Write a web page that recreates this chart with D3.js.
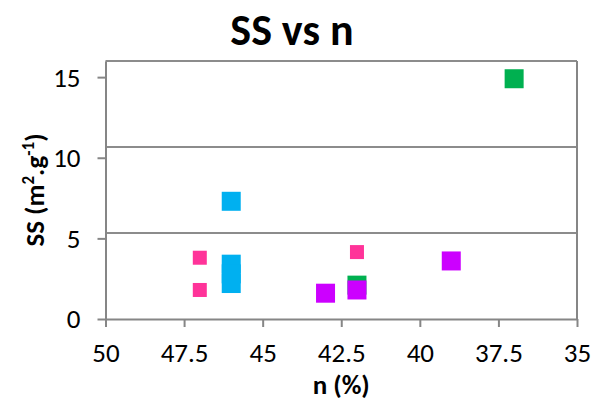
<!DOCTYPE html>
<html>
<head>
<meta charset="utf-8">
<script src="https://cdn.jsdelivr.net/npm/d3@7"></script>
<style>
  html, body { margin: 0; padding: 0; background: #fff; }
  svg { display: block; font-family: Carlito, Calibri, Lato, sans-serif; }
</style>
</head>
<body>
<svg id="chart" width="603" height="406"></svg>
<script>
// ---- data ----
const xTicks = [50, 47.5, 45, 42.5, 40, 37.5, 35];
const yTicks = [0, 5, 10, 15];
const gridValues = [5.33, 10.67];

const pinkN = [47, 47, 42];
const pinkSS = [3.8, 1.8, 4.15];
const blueN = [46, 46, 46, 46];
const blueSS = [7.3, 3.4, 2.8, 2.2];
const greenN = [37, 42];
const greenSS = [14.9, 2.1];
const purpleN = [43, 42, 39];
const purpleSS = [1.6, 1.8, 3.6];

const series = [
  { n: pinkN, ss: pinkSS, color: "#FF3399", size: 14 },
  { n: blueN, ss: blueSS, color: "#00B0F0", size: 19 },
  { n: greenN, ss: greenSS, color: "#00B050", size: 19 },
  { n: purpleN, ss: purpleSS, color: "#CC00FF", size: 19 }
];

// ---- layout ----
const pL = 105.5, pR = 577, pT = 61, pB = 319;
const svg = d3.select("#chart");
const x = d3.scaleLinear().domain([50, 35]).range([pL, pR]);
const y = d3.scaleLinear().domain([0, 16]).range([pB, pT]);
const axisColor = "#868686";

// gridlines
svg.append("g").selectAll("line").data(gridValues).join("line")
  .attr("x1", pL).attr("x2", pR)
  .attr("y1", d => y(d)).attr("y2", d => y(d))
  .attr("stroke", "#8c8c8c").attr("stroke-width", 2);

// top and right border
svg.append("line").attr("x1", pL).attr("x2", pR).attr("y1", pT).attr("y2", pT)
  .attr("stroke", "#8c8c8c").attr("stroke-width", 2);
svg.append("line").attr("x1", pR).attr("x2", pR).attr("y1", pT).attr("y2", pB)
  .attr("stroke", axisColor).attr("stroke-width", 2);

// axes
const xAxis = svg.append("g").attr("transform", `translate(0,${pB})`)
  .call(d3.axisBottom(x).tickValues(xTicks).tickFormat(d3.format("")).tickSizeInner(8).tickSizeOuter(0));
const yAxis = svg.append("g").attr("transform", `translate(${pL},0)`)
  .call(d3.axisLeft(y).tickValues(yTicks).tickFormat(d3.format("d")).tickSizeInner(8).tickSizeOuter(0).tickPadding(17));

[xAxis, yAxis].forEach(a => {
  a.select(".domain").attr("stroke", axisColor).attr("stroke-width", 2);
  a.selectAll(".tick line").attr("stroke", axisColor).attr("stroke-width", 2);
  a.selectAll(".tick text").attr("fill", "#000").style("font-size", "27px")
    .style("font-family", "Carlito, Calibri, Lato, sans-serif");
});
xAxis.selectAll(".tick text").attr("y", 43).attr("dy", "0");
yAxis.selectAll(".tick text").attr("dy", "0.33em");

// markers
series.forEach(s => {
  svg.append("g").selectAll("rect").data(s.n.map((v, i) => [v, s.ss[i]])).join("rect")
    .attr("x", d => x(d[0]) - s.size / 2)
    .attr("y", d => y(d[1]) - s.size / 2)
    .attr("width", s.size).attr("height", s.size)
    .attr("fill", s.color);
});

// title
svg.append("text").attr("x", 292).attr("y", 45).attr("text-anchor", "middle")
  .style("font-size", "44px").style("font-weight", "bold").text("SS vs n");

// x title
svg.append("text").attr("x", (pL + pR) / 2).attr("y", 394).attr("text-anchor", "middle")
  .style("font-size", "27px").style("font-weight", "bold").text("n (%)");

// y title
const yt = svg.append("text").attr("transform", `translate(44,${(pT + pB) / 2}) rotate(-90)`)
  .attr("text-anchor", "middle").style("font-size", "27px").style("font-weight", "bold");
yt.append("tspan").text("SS (m");
yt.append("tspan").attr("baseline-shift", "super").style("font-size", "17px").text("2");
yt.append("tspan").text(".g");
yt.append("tspan").attr("baseline-shift", "super").style("font-size", "17px").text("-1");
yt.append("tspan").text(")");
</script>
</body>
</html>
